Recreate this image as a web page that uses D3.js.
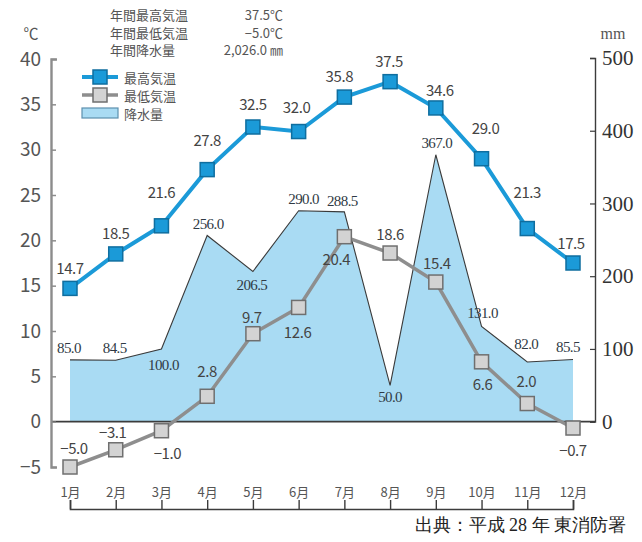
<!DOCTYPE html>
<html>
<head>
<meta charset="utf-8">
<script src="https://cdn.jsdelivr.net/npm/d3@7"></script>
<style>
  html, body { margin: 0; padding: 0; background: #fff; }
  svg { display: block; }
</style>
</head>
<body>
<svg id="chart" width="642" height="542"></svg>
<script>
// Monthly climate data
const months = ["1月","2月","3月","4月","5月","6月","7月","8月","9月","10月","11月","12月"];
const highTemp = [14.7, 18.5, 21.6, 27.8, 32.5, 32.0, 35.8, 37.5, 34.6, 29.0, 21.3, 17.5];
const lowTemp = [-5.0, -3.1, -1.0, 2.8, 9.7, 12.6, 20.4, 18.6, 15.4, 6.6, 2.0, -0.7];
const precip = [85.0, 84.5, 100.0, 256.0, 206.5, 290.0, 288.5, 50.0, 367.0, 131.0, 82.0, 85.5];
const tempTicks = [-5, 0, 5, 10, 15, 20, 25, 30, 35, 40];
const precipTicks = [0, 100, 200, 300, 400, 500];
const summaryRows = [
  ["年間最高気温", "37.5℃"],
  ["年間最低気温", "−5.0℃"],
  ["年間降水量", "2,026.0 ㎜"]
];
const legendItems = ["最高気温", "最低気温", "降水量"];
const sourceText = "出典：平成 28 年  東消防署";

// Label nudges [dx, dy] relative to each point
const highLabelNudge = [[0,-21],[0,-21],[0,-34],[0,-30],[0,-24],[-2,-25],[-5,-22],[-1,-21],[4,-18],[4,-31],[0,-37],[-2,-21]];
const lowLabelNudge = [[4,-20],[-3,-18],[6,22],[0,-26],[-1,-17],[-1,24],[-8,22],[0,-20],[1,-20],[1,22],[-1,-23],[0,21]];
const precipLabelNudge = [[-1,-12],[-1,-12],[2,16],[1,-11],[-1,14],[5,-12],[-2,-11],[0,12],[1,-12],[1,-13],[-1,-18],[-5,-12]];

const svg = d3.select("#chart");

const x = d3.scalePoint().domain(months).range([70, 573]);
const yT = d3.scaleLinear().domain([-5, 40]).range([467, 59]);
const yP = d3.scaleLinear().domain([0, 500]).range([yT(0), 58]);

const blue = "#1b9ad8", blueDark = "#0f6e9f";
const grayLine = "#8e8e8e", grayFill = "#d3d3d3", grayDark = "#6f6f6f";
const areaFill = "#a9dbf3";
const sansFont = "'Noto Sans CJK JP', 'Noto Sans', sans-serif";
const serifFont = "'Liberation Serif', 'DejaVu Serif', serif";

// Precipitation area
const area = d3.area()
  .x((d, i) => x(months[i]))
  .y0(yP(0))
  .y1(d => yP(d));
svg.append("path").datum(precip)
  .attr("d", area)
  .attr("fill", areaFill);
const precipLine = d3.line()
  .x((d, i) => x(months[i]))
  .y(d => yP(d));
svg.append("path").datum(precip)
  .attr("d", precipLine)
  .attr("fill", "none")
  .attr("stroke", "#3a3a3a")
  .attr("stroke-width", 1.1);

// Zero baseline
svg.append("line")
  .attr("x1", 51).attr("x2", 595)
  .attr("y1", yT(0)).attr("y2", yT(0))
  .attr("stroke", "#3c3c3c").attr("stroke-width", 1.6);

// Left temperature axis (ticks inward)
const leftAxis = svg.append("g")
  .attr("transform", "translate(51,0)")
  .call(d3.axisLeft(yT).tickValues(tempTicks).tickSizeInner(-5).tickSizeOuter(-6).tickPadding(10));
leftAxis.select(".domain").attr("stroke", "#8c8c8c").attr("stroke-width", 2.4);
leftAxis.selectAll(".tick line").attr("stroke", "#8c8c8c").attr("stroke-width", 1.5);
leftAxis.selectAll(".tick text")
  .attr("font-family", sansFont).attr("font-size", 19)
  .attr("fill", "#555");

// Right precipitation axis (ticks inward)
const rightAxis = svg.append("g")
  .attr("transform", "translate(595,0)")
  .call(d3.axisRight(yP).tickValues(precipTicks).tickSizeInner(-5).tickSizeOuter(-5).tickPadding(7));
rightAxis.select(".domain").attr("stroke", "#3c3c3c").attr("stroke-width", 1.4);
rightAxis.selectAll(".tick line").attr("stroke", "#3c3c3c").attr("stroke-width", 1.2);
rightAxis.selectAll(".tick text")
  .attr("font-family", serifFont).attr("font-size", 21)
  .attr("fill", "#333");

// Axis units
svg.append("text").attr("x", 31).attr("y", 39).attr("text-anchor", "middle")
  .attr("font-family", sansFont).attr("font-size", 15).attr("fill", "#555").text("℃");
svg.append("text").attr("x", 613).attr("y", 39).attr("text-anchor", "middle")
  .attr("font-family", serifFont).attr("font-size", 16).attr("fill", "#555").text("mm");

// Month bracket axis
const monthAxis = svg.append("g")
  .attr("transform", "translate(0,509)")
  .call(d3.axisTop(x).tickSizeInner(9).tickSizeOuter(9).tickPadding(3));
monthAxis.select(".domain").attr("stroke", "#3c3c3c").attr("stroke-width", 1.6);
monthAxis.selectAll(".tick line").attr("stroke", "#3c3c3c").attr("stroke-width", 1.4);
monthAxis.selectAll(".tick text")
  .attr("font-family", sansFont).attr("font-size", 13)
  .attr("fill", "#555");

// Temperature lines
const lineT = d3.line()
  .x((d, i) => x(months[i]))
  .y(d => yT(d));

svg.append("path").datum(lowTemp)
  .attr("d", lineT).attr("fill", "none")
  .attr("stroke", grayLine).attr("stroke-width", 3.5);
svg.append("g").selectAll("rect").data(lowTemp).join("rect")
  .attr("x", (d, i) => x(months[i]) - 7)
  .attr("y", d => yT(d) - 7)
  .attr("width", 14).attr("height", 14)
  .attr("fill", grayFill).attr("stroke", grayDark).attr("stroke-width", 1.5);

svg.append("path").datum(highTemp)
  .attr("d", lineT).attr("fill", "none")
  .attr("stroke", blue).attr("stroke-width", 4);
svg.append("g").selectAll("rect").data(highTemp).join("rect")
  .attr("x", (d, i) => x(months[i]) - 7)
  .attr("y", d => yT(d) - 7)
  .attr("width", 14).attr("height", 14)
  .attr("fill", blue).attr("stroke", blueDark).attr("stroke-width", 1.5);

// Value labels
const fmtT = v => (v < 0 ? "−" + Math.abs(v).toFixed(1) : v.toFixed(1));
svg.append("g").selectAll("text").data(precip).join("text")
  .attr("x", (d, i) => x(months[i]) + precipLabelNudge[i][0])
  .attr("y", (d, i) => yP(d) + precipLabelNudge[i][1])
  .attr("text-anchor", "middle").attr("dominant-baseline", "central")
  .attr("font-family", serifFont).attr("font-size", 15).attr("letter-spacing", -0.6)
  .attr("fill", "#2f3a45")
  .text(d => d.toFixed(1));
svg.append("g").selectAll("text").data(highTemp).join("text")
  .attr("x", (d, i) => x(months[i]) + highLabelNudge[i][0])
  .attr("y", (d, i) => yT(d) + highLabelNudge[i][1])
  .attr("text-anchor", "middle").attr("dominant-baseline", "central")
  .attr("font-family", sansFont).attr("font-size", 15).attr("letter-spacing", -0.4)
  .attr("fill", "#444")
  .text(fmtT);
svg.append("g").selectAll("text").data(lowTemp).join("text")
  .attr("x", (d, i) => x(months[i]) + lowLabelNudge[i][0])
  .attr("y", (d, i) => yT(d) + lowLabelNudge[i][1])
  .attr("text-anchor", "middle").attr("dominant-baseline", "central")
  .attr("font-family", sansFont).attr("font-size", 15).attr("letter-spacing", -0.4)
  .attr("fill", "#444")
  .text(fmtT);

// Annual summary
const summary = svg.append("g");
summaryRows.forEach((r, i) => {
  summary.append("text").attr("x", 110).attr("y", 20 + i * 17.5)
    .attr("font-family", sansFont).attr("font-size", 13).attr("fill", "#555").text(r[0]);
  summary.append("text").attr("x", 283).attr("y", 20 + i * 17.5).attr("text-anchor", "end")
    .attr("font-family", sansFont).attr("font-size", 13).attr("fill", "#555").text(r[1]);
});

// Legend
const legend = svg.append("g");
const legY = [77, 95, 113];
legend.append("line").attr("x1", 82).attr("x2", 118).attr("y1", legY[0]).attr("y2", legY[0])
  .attr("stroke", blue).attr("stroke-width", 4);
legend.append("rect").attr("x", 93).attr("y", legY[0] - 7).attr("width", 14).attr("height", 14)
  .attr("fill", blue).attr("stroke", blueDark).attr("stroke-width", 1.5);
legend.append("line").attr("x1", 82).attr("x2", 118).attr("y1", legY[1]).attr("y2", legY[1])
  .attr("stroke", grayLine).attr("stroke-width", 3.5);
legend.append("rect").attr("x", 93).attr("y", legY[1] - 7).attr("width", 14).attr("height", 14)
  .attr("fill", grayFill).attr("stroke", grayDark).attr("stroke-width", 1.5);
legend.append("rect").attr("x", 82).attr("y", legY[2] - 5).attr("width", 36).attr("height", 10)
  .attr("fill", areaFill).attr("stroke", "#5d8fae").attr("stroke-width", 1.2);
legendItems.forEach((t, i) => {
  legend.append("text").attr("x", 124).attr("y", legY[i]).attr("dominant-baseline", "central")
    .attr("font-family", sansFont).attr("font-size", 13).attr("fill", "#555").text(t);
});

// Source note
svg.append("text").attr("x", 626).attr("y", 531).attr("text-anchor", "end")
  .attr("font-family", serifFont).attr("font-size", 18).attr("fill", "#222")
  .text(sourceText);
</script>
</body>
</html>
